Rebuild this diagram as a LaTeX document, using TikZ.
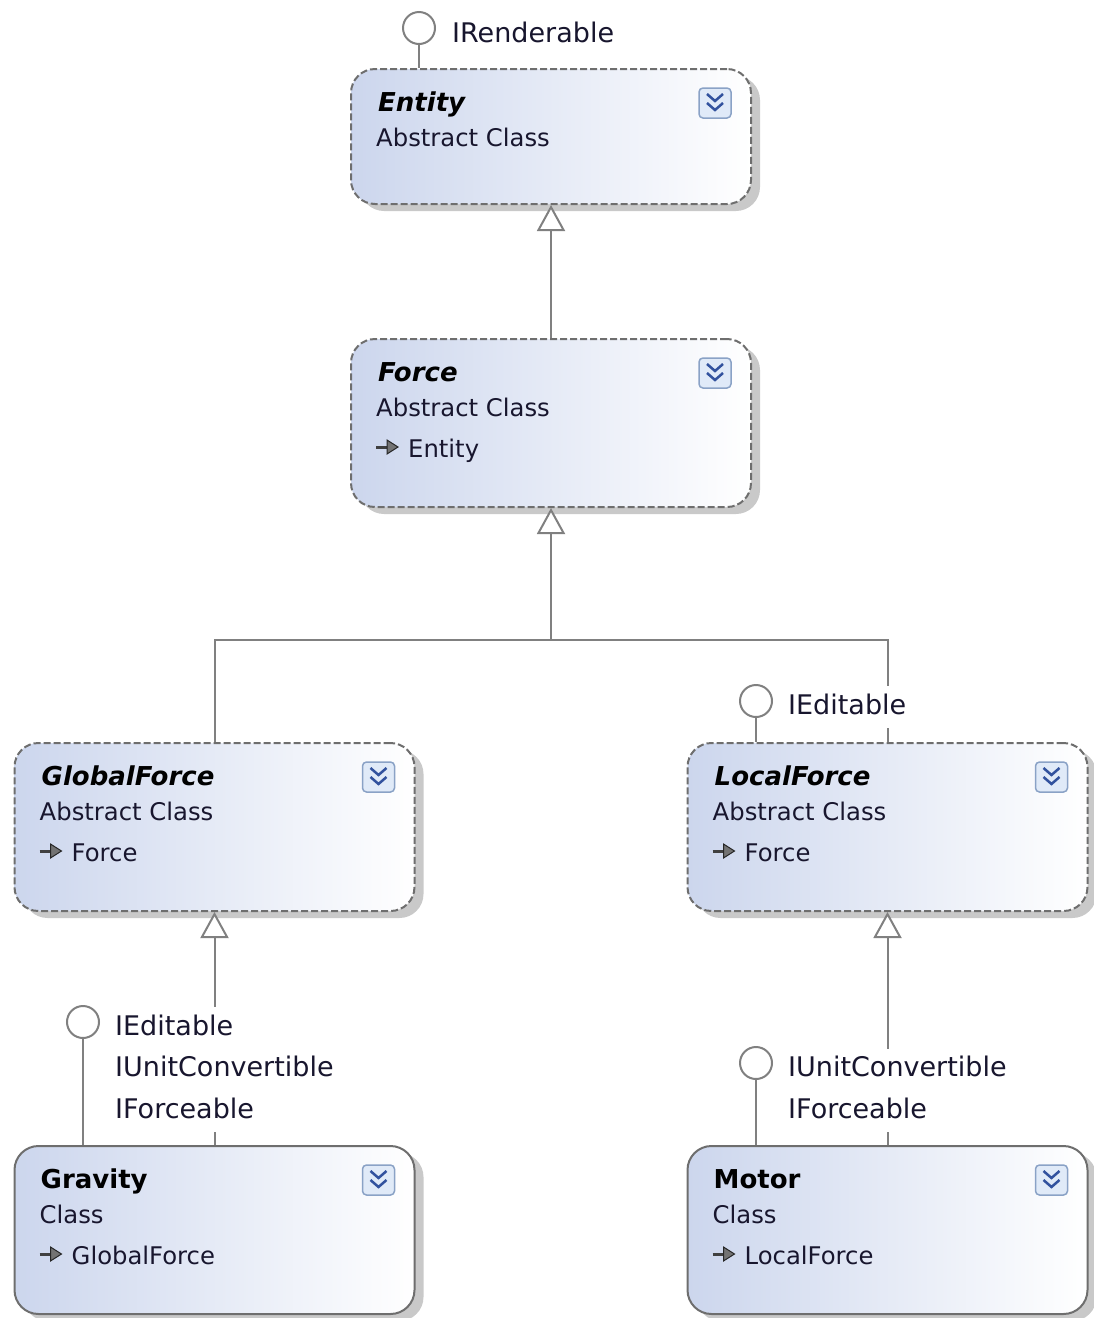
\documentclass[tikz,border=0pt]{standalone}
\usepackage{fontspec}
\setmainfont{DejaVu Sans}
\usetikzlibrary{arrows.meta,shadows,calc}

\definecolor{linegray}{RGB}{128,128,128}
\definecolor{boxedge}{RGB}{110,110,110}
\definecolor{boxleft}{RGB}{204,214,237}
\definecolor{iconfill}{RGB}{224,234,248}
\definecolor{iconedge}{RGB}{138,162,198}
\definecolor{iconblue}{RGB}{50,82,158}
\definecolor{textcol}{RGB}{24,22,46}

\tikzset{
  classbox/.style={draw=boxedge, line width=2pt, rounded corners=24pt,
    left color=boxleft, right color=white, minimum width=400pt,
    drop shadow={shadow xshift=9pt, shadow yshift=-7pt, opacity=.3, fill=black!70}},
  abstractbox/.style={classbox, dash pattern=on 7pt off 3pt},
  title/.style={anchor=base west, inner sep=0pt, text=black,
    font=\fontsize{26}{30}\selectfont\bfseries\itshape},
  ctitle/.style={title, font=\fontsize{26}{30}\selectfont\bfseries},
  body/.style={anchor=base west, inner sep=0pt, text=textcol,
    font=\fontsize{24.3}{30}\selectfont},
  iface/.style={circle, draw=linegray, fill=white, line width=2pt,
    minimum size=32pt, inner sep=0pt},
  iflabel/.style={anchor=base west, fill=white, inner xsep=3pt, inner ysep=8pt,
    text height=20pt, text depth=6pt, text=textcol, font=\fontsize{27}{32}\selectfont},
  conn/.style={draw=linegray, line width=2pt},
  inherit/.style={conn, -{Triangle[open, length=26pt, width=28pt, fill=white]}},
  expander/.pic={
    \draw[iconedge, line width=1.5pt, fill=iconfill, rounded corners=4pt] (-16,-15) rectangle (16,15);
    \draw[iconblue, line width=2.5pt] (-8,-9) -- (0,-2) -- (8,-9) (-8,0) -- (0,7) -- (8,0);
  },
  inhicon/.pic={
    \draw[black!75, line width=3pt] (0,0) -- (12,0);
    \draw[black!85, fill=black!55, line width=1pt] (11,-7) -- (22,0) -- (11,7) -- cycle;
  }
}

\begin{document}
\begin{tikzpicture}[x=1pt,y=-1pt]
  \useasboundingbox (0,0) rectangle (1093,1318);

  \node[abstractbox, minimum height=135pt] (entity) at (551,136.5) {};
  \node[abstractbox, minimum height=168pt] (force) at (551,423) {};
  \node[abstractbox, minimum height=168pt] (gforce) at (214.5,827) {};
  \node[abstractbox, minimum height=168pt] (lforce) at (887.5,827) {};
  \node[classbox, minimum height=168pt] (gravity) at (214.5,1230) {};
  \node[classbox, minimum height=168pt] (motor) at (887.5,1230) {};

  \node[title] at ($(entity.north west)+(28,43)$) {Entity};
  \node[body] at ($(entity.north west)+(26,78)$) {Abstract Class};
  \pic at ($(entity.north east)+(-37,35)$) {expander};

  \node[title] at ($(force.north west)+(28,43)$) {Force};
  \node[body] at ($(force.north west)+(26,78)$) {Abstract Class};
  \pic at ($(force.north west)+(26,109)$) {inhicon};
  \node[body] at ($(force.north west)+(58,119)$) {Entity};
  \pic at ($(force.north east)+(-37,35)$) {expander};

  \node[title] at ($(gforce.north west)+(28,43)$) {GlobalForce};
  \node[body] at ($(gforce.north west)+(26,78)$) {Abstract Class};
  \pic at ($(gforce.north west)+(26,109)$) {inhicon};
  \node[body] at ($(gforce.north west)+(58,119)$) {Force};
  \pic at ($(gforce.north east)+(-37,35)$) {expander};

  \node[title] at ($(lforce.north west)+(28,43)$) {LocalForce};
  \node[body] at ($(lforce.north west)+(26,78)$) {Abstract Class};
  \pic at ($(lforce.north west)+(26,109)$) {inhicon};
  \node[body] at ($(lforce.north west)+(58,119)$) {Force};
  \pic at ($(lforce.north east)+(-37,35)$) {expander};

  \node[ctitle] at ($(gravity.north west)+(27,43)$) {Gravity};
  \node[body] at ($(gravity.north west)+(26,78)$) {Class};
  \pic at ($(gravity.north west)+(26,109)$) {inhicon};
  \node[body] at ($(gravity.north west)+(58,119)$) {GlobalForce};
  \pic at ($(gravity.north east)+(-37,35)$) {expander};

  \node[ctitle] at ($(motor.north west)+(27,43)$) {Motor};
  \node[body] at ($(motor.north west)+(26,78)$) {Class};
  \pic at ($(motor.north west)+(26,109)$) {inhicon};
  \node[body] at ($(motor.north west)+(58,119)$) {LocalForce};
  \pic at ($(motor.north east)+(-37,35)$) {expander};

  \coordinate (fork) at (551,640);
  \begin{scope}
    \draw[inherit] (force.north) -- (entity.south);
    \draw[inherit] (gforce.north) |- (fork) -- (force.south);
    \draw[conn] (lforce.north) |- (fork);
    \draw[inherit] (gravity.north) -- (gforce.south);
    \draw[inherit] (motor.north) -- (lforce.south);
  \end{scope}

  \node[iface] (entityIf) at (419,28) {};
  \node[iface] (lforceIf) at (756,701) {};
  \node[iface] (gravityIf) at (83,1022) {};
  \node[iface] (motorIf) at (756,1063) {};
  \begin{scope}
    \draw[conn] (entityIf) -- (entityIf |- entity.north);
    \draw[conn] (lforceIf) -- (lforceIf |- lforce.north);
    \draw[conn] (gravityIf) -- (gravityIf |- gravity.north);
    \draw[conn] (motorIf) -- (motorIf |- motor.north);
  \end{scope}

  \node[iflabel] (renderLbl) at (449,42) {IRenderable};
  \node[iflabel] (leditLbl) at (785,714) {IEditable};
  \node[iflabel] (geditLbl) at (112,1035) {IEditable};
  \node[iflabel] (gunitLbl) at (112,1076.5) {IUnitConvertible};
  \node[iflabel] (gforceLbl) at (112,1118) {IForceable};
  \node[iflabel] (munitLbl) at (785,1076.5) {IUnitConvertible};
  \node[iflabel] (mforceLbl) at (785,1118) {IForceable};
\end{tikzpicture}
\end{document}
